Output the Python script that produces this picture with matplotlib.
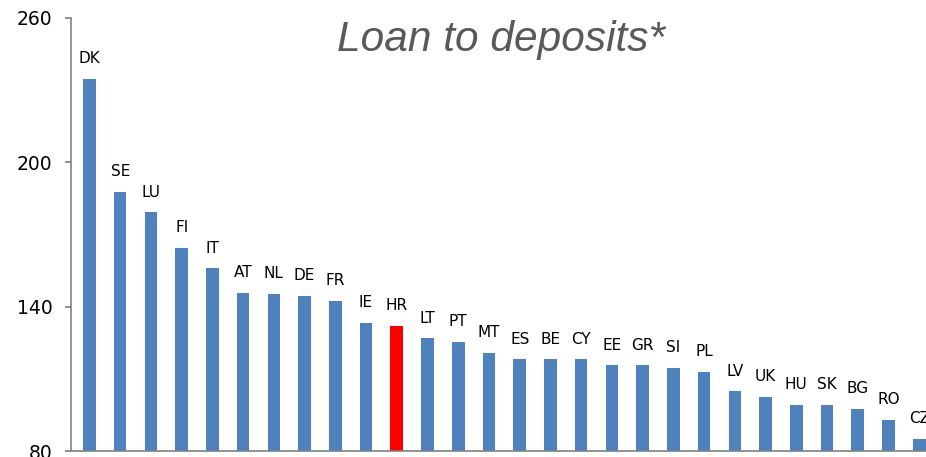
import matplotlib.pyplot as plt
import numpy as np

countries = ["DK", "SE", "LU", "FI", "IT", "AT", "NL", "DE", "FR", "IE", "HR", "LT", "PT", "MT",
             "ES", "BE", "CY", "EE", "GR", "SI", "PL", "LV", "UK", "HU", "SK", "BG", "RO", "CZ"]
ratio = [234.6, 187.6, 179.1, 164.4, 155.8, 145.8, 145.2, 144.5, 142.4, 133.3, 132.1, 126.9, 125.4, 120.9,
         118.1, 118.1, 118.1, 115.6, 115.6, 114.6, 112.9, 104.8, 102.6, 99.2, 99.2, 97.5, 92.9, 85.0]
highlight = "HR"

blue = "#4F81BD"
red = "#FF0000"
gray = "#808080"

fig = plt.figure(figsize=(9.26, 4.57), dpi=100)
ax = fig.add_axes([0.0767, 0.0131, 0.9233, 0.9486])

x = np.arange(len(countries))
colors = [red if c == highlight else blue for c in countries]
ax.bar(x, np.array(ratio) - 80, bottom=80, width=0.41, color=colors, zorder=2)

for xi, c, v in zip(x, countries, ratio):
    ax.annotate(c, (xi, v), xytext=(0, 9), textcoords="offset points",
                ha="center", va="bottom", fontsize=11, color="black",
                annotation_clip=False)

ax.set_ylim(80, 260)
ax.set_yticks([80, 140, 200, 260])
ax.set_xlim(-0.6, 27.22)
ax.set_xticks([])

for s in ["top", "right"]:
    ax.spines[s].set_visible(False)
ax.spines["left"].set_color(gray)
ax.spines["bottom"].set_color(gray)
ax.spines["left"].set_linewidth(1.2)
ax.spines["bottom"].set_linewidth(1.2)
ax.tick_params(axis="y", length=4.5, width=1.2, color=gray, labelsize=13.5, pad=9)

fig.text(0.541, 0.912, "Loan to deposits*", ha="center", va="center",
         fontsize=30.5, style="italic", color="#595959", family="Liberation Sans")

fig.savefig("out.png", dpi=100)
